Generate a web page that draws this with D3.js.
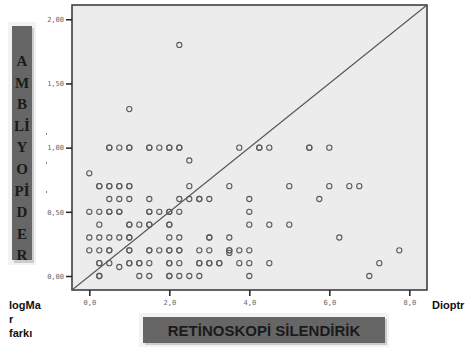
<!DOCTYPE html>
<html><head><meta charset="utf-8">
<script src="https://cdn.jsdelivr.net/npm/d3@7"></script>
<style>body{margin:0;background:#fff;}svg{display:block;}</style>
</head><body>
<svg id="c" width="465" height="347"></svg>
<script>
// Data: [retinoscopy cylinder (D), logMAR difference]
const xVals = [0.5,0.5,0.75,1.0,1.0,1.5,1.5,1.75,2.0,2.0,2.25,2.25,3.75,4.25,4.25,4.5,5.5,5.5,6.0,
  2.25,1.0,2.5,0.0,
  0.25,0.25,0.5,0.5,0.75,0.75,1.0,1.0,2.5,3.5,5.0,6.0,6.5,6.75,
  0.5,0.75,1.0,1.5,2.25,2.5,2.75,2.75,3.0,4.0,5.75,
  0.0,0.25,0.5,0.5,0.75,0.75,1.5,1.5,1.75,2.0,2.0,2.25,4.0,
  0.25,1.0,1.0,1.25,1.5,1.5,2.0,2.0,4.0,4.5,5.0,
  0.0,0.25,0.5,0.75,1.0,1.0,2.0,2.25,3.0,3.0,3.5,6.25,
  0.0,0.25,0.5,0.5,1.0,1.0,1.5,1.5,1.75,2.0,2.0,2.25,2.25,2.75,3.0,3.5,3.5,3.75,4.0,7.75,
  3.5,
  0.25,0.25,0.5,1.0,1.0,1.25,1.25,1.5,2.0,2.0,2.25,2.75,2.75,3.0,3.0,3.25,3.25,3.75,4.0,4.5,7.25,
  0.75,
  0.25,0.25,1.25,1.5,2.0,2.0,2.25,2.5,2.75,4.0,7.0];
const yVals = [1.0,1.0,1.0,1.0,1.0,1.0,1.0,1.0,1.0,1.0,1.0,1.0,1.0,1.0,1.0,1.0,1.0,1.0,1.0,
  1.8,1.3,0.9,0.8,
  0.7,0.7,0.7,0.7,0.7,0.7,0.7,0.7,0.7,0.7,0.7,0.7,0.7,0.7,
  0.6,0.6,0.6,0.6,0.6,0.6,0.6,0.6,0.6,0.6,0.6,
  0.5,0.5,0.5,0.5,0.5,0.5,0.5,0.5,0.5,0.5,0.5,0.5,0.5,
  0.4,0.4,0.4,0.4,0.4,0.4,0.4,0.4,0.4,0.4,0.4,
  0.3,0.3,0.3,0.3,0.3,0.3,0.3,0.3,0.3,0.3,0.3,0.3,
  0.2,0.2,0.2,0.2,0.2,0.2,0.2,0.2,0.2,0.2,0.2,0.2,0.2,0.2,0.2,0.2,0.2,0.2,0.2,0.2,
  0.18,
  0.1,0.1,0.1,0.1,0.1,0.1,0.1,0.1,0.1,0.1,0.1,0.1,0.1,0.1,0.1,0.1,0.1,0.1,0.1,0.1,0.1,
  0.07,
  0.0,0.0,0.0,0.0,0.0,0.0,0.0,0.0,0.0,0.0,0.0];
const xTicks = [0,2,4,6,8];
const yTicks = [0,0.5,1.0,1.5,2.0];
const xDomain = [-0.4325, 8.4425];
const yDomain = [-0.109, 2.111];
const sideLetters = ["A","M","B","Lİ","Y","O","Pİ","D","E","R"];
const xTitle = "RETİNOSKOPİ SİLENDİRİK";
const yUnitLines = ["logMa","r","farkı"];
const xUnit = "Dioptr";

const svg = d3.select("#c");
const L=72,R=427,T=5,B=290;
const x = d3.scaleLinear().domain(xDomain).range([L,R]);
const y = d3.scaleLinear().domain(yDomain).range([B,T]);

svg.append("rect").attr("x",L).attr("y",T).attr("width",R-L).attr("height",B-T)
  .attr("fill","#ececec").attr("stroke","#333").attr("stroke-width",1.5);

// reference line (corner to corner)
svg.append("line").attr("x1",x(xDomain[0])).attr("y1",y(yDomain[0]))
  .attr("x2",x(xDomain[1])).attr("y2",y(yDomain[1]))
  .attr("stroke","#555").attr("stroke-width",1.1);

const pts = xVals.map((v,i)=>[v,yVals[i]]);
svg.append("g").selectAll("circle").data(pts).join("circle")
  .attr("cx",d=>x(d[0])).attr("cy",d=>y(d[1])).attr("r",2.6)
  .attr("fill","none").attr("stroke","#5a5a5a").attr("stroke-width",1.1);

// axes
const fmtY = d => d3.format(".2f")(d).replace(".",",");
const fmtX = d => d3.format(".1f")(d).replace(".",",");
const ya = svg.append("g").attr("transform",`translate(${L},0)`)
  .call(d3.axisLeft(y).tickValues(yTicks).tickFormat(fmtY).tickSize(6).tickPadding(2));
const xa = svg.append("g").attr("transform",`translate(0,${B})`)
  .call(d3.axisBottom(x).tickValues(xTicks).tickFormat(fmtX).tickSize(6).tickPadding(4));
[ya,xa].forEach(a=>{
  a.select(".domain").remove();
  a.selectAll(".tick line").attr("stroke","#222").attr("stroke-width",1.5);
  a.selectAll(".tick text").attr("font-family","DejaVu Sans Mono").attr("font-size",7).attr("fill","#666");
});

// stray marks
[134,163,192].forEach(v=>svg.append("rect").attr("x",46).attr("y",v-1).attr("width",1).attr("height",2).attr("fill","#888"));

// left vertical label box
svg.append("rect").attr("x",8).attr("y",22).attr("width",28).attr("height",243).attr("fill","#f3f3f3");
svg.append("rect").attr("x",14).attr("y",28).attr("width",20).attr("height",235).attr("fill","#bbb").attr("opacity",0.7);
svg.append("rect").attr("x",12).attr("y",26).attr("width",20).attr("height",234).attr("fill","#666");
svg.append("clipPath").attr("id","sideclip").append("rect").attr("x",12).attr("y",26).attr("width",20).attr("height",234);
const sideG = svg.append("g").attr("clip-path","url(#sideclip)");
sideLetters.forEach((t,i)=>{
  sideG.append("text").attr("x",22).attr("y",66+i*21.6).attr("text-anchor","middle")
    .attr("font-family","Liberation Serif").attr("font-weight","bold").attr("font-size",15)
    .attr("fill","#1a1a1a").text(t);
});

// bottom title box
svg.append("rect").attr("x",139).attr("y",313).attr("width",250).attr("height",34).attr("fill","#f3f3f3");
svg.append("rect").attr("x",145).attr("y",319).attr("width",242).attr("height",26).attr("fill","#bbb").attr("opacity",0.7);
svg.append("rect").attr("x",143).attr("y",317).attr("width",242).attr("height",26).attr("fill","#666");
svg.append("text").attr("x",264).attr("y",336).attr("text-anchor","middle")
  .attr("font-family","Liberation Sans").attr("font-weight","bold").attr("font-size",15)
  .attr("fill","#1a1a1a").text(xTitle);

// unit labels
yUnitLines.forEach((t,i)=>svg.append("text").attr("x",9).attr("y",309+i*14)
  .attr("font-family","Liberation Sans").attr("font-weight","bold").attr("font-size",11).attr("fill","#111").text(t));
svg.append("text").attr("x",432).attr("y",309).attr("font-family","Liberation Sans")
  .attr("font-weight","bold").attr("font-size",11).attr("fill","#111").text(xUnit);
</script>
</body></html>
